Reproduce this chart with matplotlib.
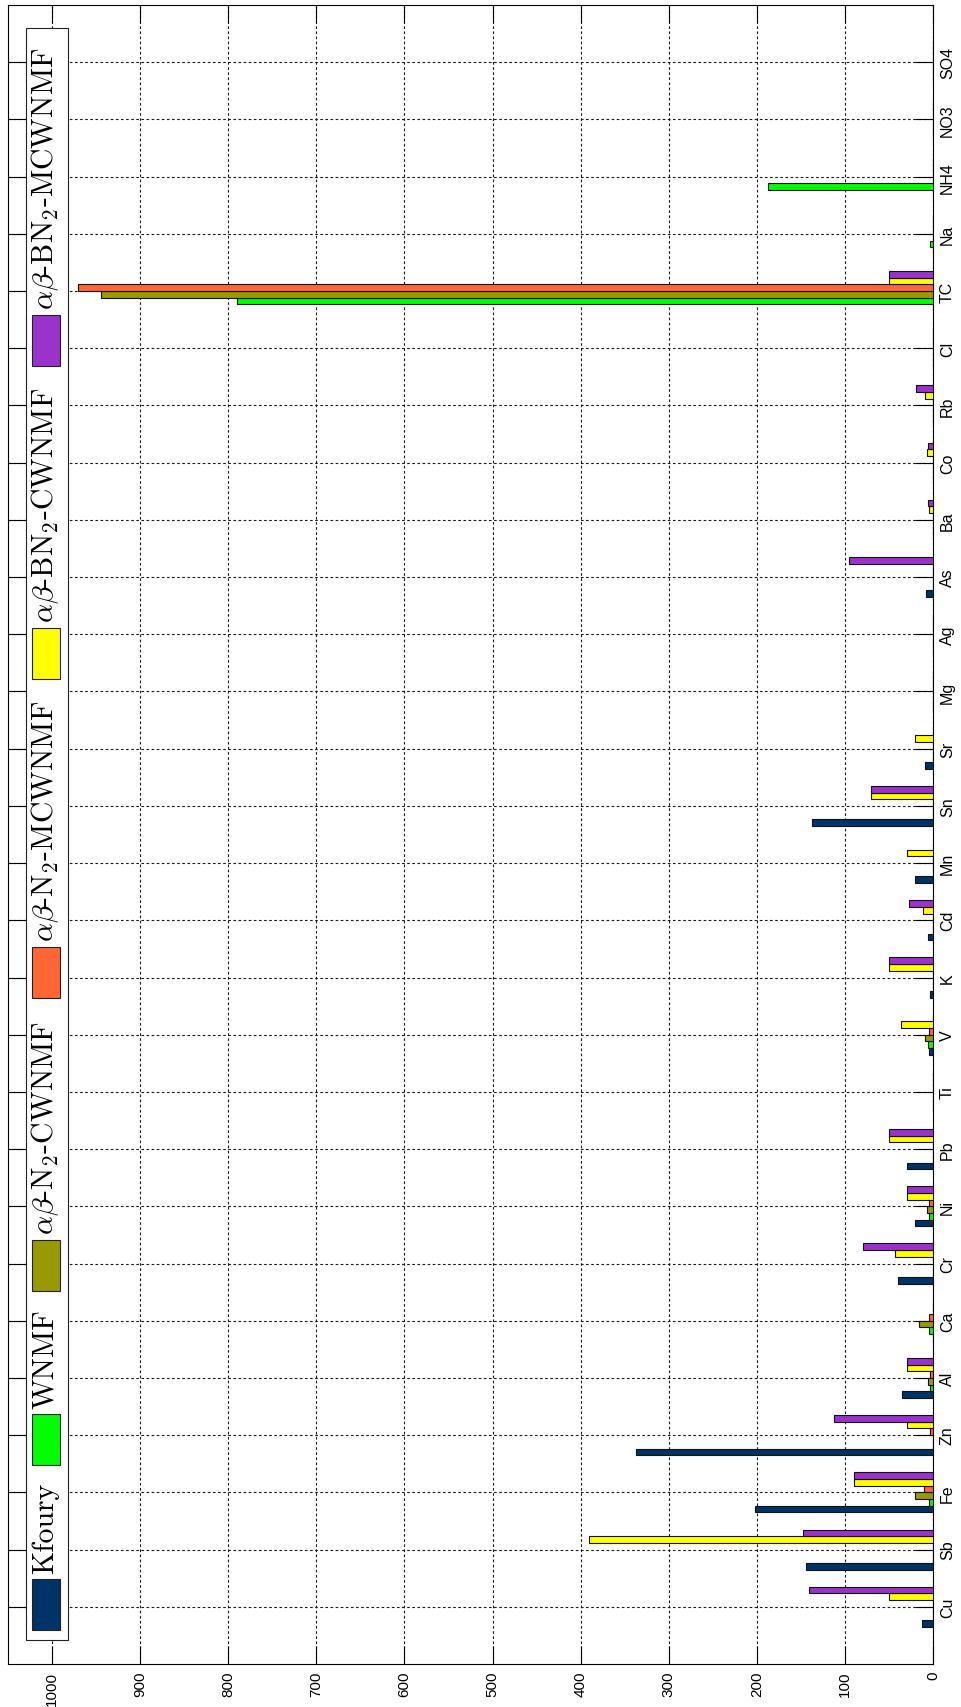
import matplotlib
matplotlib.use('Agg')
import matplotlib.pyplot as plt
from matplotlib.patches import Rectangle
from matplotlib.transforms import Affine2D
import numpy as np

# data
cats = ['Cu', 'Sb', 'Fe', 'Zn', 'Al', 'Ca', 'Cr', 'Ni', 'Pb', 'Ti', 'V', 'K', 'Cd', 'Mn',
        'Sn', 'Sr', 'Mg', 'Ag', 'As', 'Ba', 'Co', 'Rb', 'Cl', 'TC', 'Na', 'NH4', 'NO3', 'SO4']

kfoury = [12, 144, 202, 337, 35, 0, 40, 20, 30, 0, 4.5, 3, 5.7, 20,
          137, 8.7, 0, 0, 7.5, 0, 0, 0, 0, 0, 0, 0, 0, 0]
wnmf = [0, 0, 4, 0, 3, 5, 0, 4.5, 0, 0, 5.7, 0, 0, 0,
        0, 0, 0, 0, 0, 0, 0, 0, 0, 790, 3, 187, 0, 0]
n2_cw = [0, 0, 20, 0, 6, 16, 0, 6.5, 0, 0, 8.7, 0, 0, 0,
         0, 0, 0, 0, 0, 0, 0, 0, 0, 944, 0, 0, 0, 0]
n2_mcw = [0, 0, 10, 3, 3, 4.5, 0, 4.5, 0, 0, 5, 0, 0, 0,
          0, 0, 0, 0, 0, 0, 0, 0, 0, 971, 0, 0, 0, 0]
bn2_cw = [50, 391, 90, 30, 30, 0, 43, 30, 50, 0, 36, 50, 11, 30,
          70, 20, 0, 0, 0, 5, 7, 9, 0, 50, 0, 0, 0, 0]
bn2_mcw = [141, 148, 90, 112, 30, 0, 80, 30, 50, 0, 0, 50, 27, 0,
           70, 0, 0, 0, 95, 6, 6, 19, 0, 50, 0, 0, 0, 0]

series = [kfoury, wnmf, n2_cw, n2_mcw, bn2_cw, bn2_mcw]
names = ['Kfoury', 'WNMF', r'$\alpha\beta$-N$_2$-CWNMF', r'$\alpha\beta$-N$_2$-MCWNMF',
         r'$\alpha\beta$-BN$_2$-CWNMF', r'$\alpha\beta$-BN$_2$-MCWNMF']
colors = ['#003366', '#00FF00', '#999900', '#FF6633', '#FFFF00', '#9933CC']
xticks = list(range(0, 1001, 100))

plt.rcParams['mathtext.fontset'] = 'cm'

W, H = 961, 1708
fig = plt.figure(figsize=(W / 100, H / 100), dpi=100)
ax = fig.add_axes([8 / W, 1 - 1665 / H, (933 - 8) / W, (1665 - 6) / H])

pos = np.arange(1, len(cats) + 1)
h = 0.117
for i, (vals, c) in enumerate(zip(series, colors)):
    ax.barh(pos + (i - 2.5) * h, vals, height=h, color=c, edgecolor='#111111',
            linewidth=0.8, zorder=3)

ax.set_xlim(1050, 0)
ax.set_ylim(0, len(cats) + 1)
ax.set_xticks(xticks)
ax.set_xticklabels([str(t) for t in xticks], rotation=90, ha='center', va='top',
                   fontsize=11, family='Liberation Sans')
ax.set_yticks(pos)
ax.set_yticklabels(cats, rotation=90, va='center', fontsize=11.5, family='Liberation Sans')
ax.yaxis.tick_right()
ax.tick_params(direction='in', length=13, width=0.8, top=True, bottom=True,
               left=True, right=True, labelleft=False, labelright=True, pad=5)
ax.set_axisbelow(True)
ax.grid(True, linestyle=(0, (2.4, 2.2)), color='#1a1a1a', linewidth=0.8)
for s in ax.spines.values():
    s.set_linewidth(0.8)

# legend drawn by hand, rotated like the rest of the chart (pixel coords, y down)
pix = Affine2D().scale(1 / W, -1 / H).translate(0, 1) + fig.transFigure
fig.patches.append(Rectangle((26, 29), 42, 1612, transform=pix, facecolor='white',
                             edgecolor='#222222', linewidth=0.8, zorder=5))
tops = [1580, 1415, 1241, 948, 629, 316]
for name, c, t in zip(names, colors, tops):
    fig.patches.append(Rectangle((32, t), 28, 51, transform=pix, facecolor=c,
                                 edgecolor='#222222', linewidth=0.8, zorder=6))
    fig.text(53, t - 6, name, transform=pix, rotation=90, rotation_mode='anchor',
             ha='left', va='baseline', fontsize=21.5, family='cmr10', zorder=7)

fig.savefig('out.png', dpi=100)
